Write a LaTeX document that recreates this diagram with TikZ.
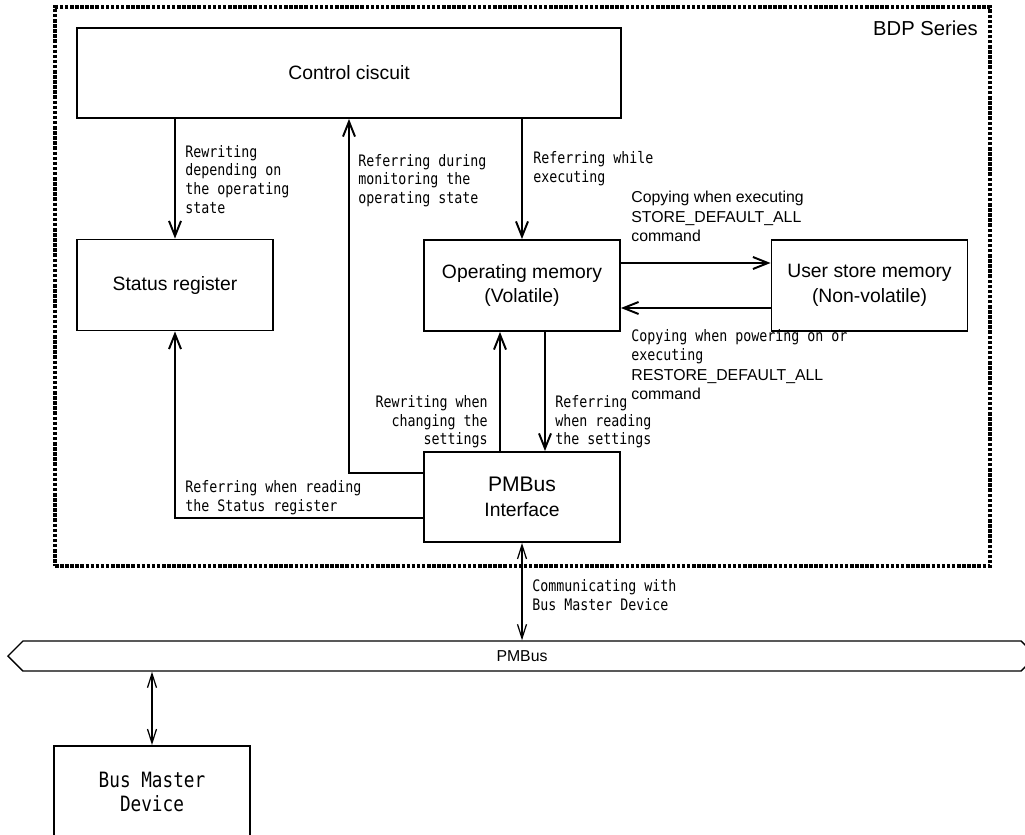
\documentclass[tikz,border=0pt]{standalone}
\usepackage{fontspec}
\setmainfont{Liberation Sans}
\newfontfamily\gothfont[FakeStretch=0.84]{DejaVu Sans Mono}
\usetikzlibrary{positioning}
\usetikzlibrary{arrows.meta}
\usetikzlibrary{shapes.symbols}

\begin{document}
\begin{tikzpicture}[x=0.2mm, y=-0.2mm,
  blk/.style={shape=rectangle, draw, line width=1.1pt, minimum width=39.2mm, minimum height=18.2mm, inner sep=0pt, align=center, font=\fontsize{11}{14}\selectfont},
  lbl/.style={inner sep=0pt, align=left, font=\gothfont\fontsize{9}{10.6}\selectfont},
  cmd/.style={inner sep=0pt, align=left, font=\fontsize{9}{11}\selectfont},
  arr/.style={-{Straight Barb[length=3mm,width=2.4mm]}, line width=1.1pt},
  busarr/.style={{Straight Barb[length=2.8mm,width=1.8mm]}-{Straight Barb[length=2.8mm,width=1.8mm]}, line width=0.7pt}]

  \useasboundingbox (0,0) rectangle (1025,834);

  % BDP frame
  \node[shape=rectangle, draw, line width=1.8pt, dash pattern=on 2pt off 0.9pt, minimum width=187mm, minimum height=111.8mm, inner sep=0pt] (frame) at (522.5,286.5) {};
  \node[anchor=north east, inner sep=0pt, font=\fontsize{11.5}{13}\selectfont] (series) at (978,21) {BDP Series};

  % blocks
  \node[blk, minimum width=108.8mm, minimum height=18mm] (ctrl) at (349,73) {Control ciscuit};
  \node[blk] (status) at (175,285) {Status register};
  \node[blk] (opmem) at (522,285.5) {Operating memory\\(Volatile)};
  \node[blk] (usermem) at (869.5,285.5) {User store memory\\(Non-volatile)};
  \node[blk, minimum height=18mm] (pmbusif) at (522,497) {{\fontsize{12}{14}\selectfont PMBus}\\Interface};
  \node[blk, minimum height=18.4mm, font=\gothfont\fontsize{12}{14}\selectfont] (master) at (152,792) {Bus Master\\Device};
  \node[shape=signal, signal to=west and east, draw, line width=0.8pt, minimum width=205.6mm, minimum height=6mm, inner sep=0pt, font=\fontsize{9}{11}\selectfont] (bus) at (522,656) {PMBus};

  % labels
  \node[lbl, anchor=north west] (rwstate) at (185,145) {Rewriting\\depending on\\the operating\\state};
  \node[lbl, anchor=north west] (refmon) at (358,154) {Referring during\\monitoring the\\operating state};
  \node[lbl, anchor=north west] (refexec) at (533,151) {Referring while\\executing};
  \node[cmd, anchor=north west] (storecmd) at (631,191) {Copying when executing\\STORE\_DEFAULT\_ALL\\command};
  \node[cmd, anchor=north west] (restorecmd) at (631,329) {{\gothfont Copying when powering on or}\\{\gothfont executing}\\RESTORE\_DEFAULT\_ALL\\command};
  \node[lbl, anchor=north east, align=right] (rwset) at (488,395) {Rewriting when\\changing the\\settings};
  \node[lbl, anchor=north west] (refset) at (555,395) {Referring\\when reading\\the settings};
  \node[lbl, anchor=north west] (refstat) at (185,480) {Referring when reading\\the Status register};
  \node[lbl, anchor=north west] (commbus) at (532,579) {Communicating with\\Bus Master Device};

  % connectors
  \draw[arr] (status.north |- ctrl.south) -- (status.north);
  \draw[arr] (opmem.north |- ctrl.south) -- (opmem.north);
  \draw[arr] ([yshift=-4.4mm]pmbusif.north west) -| (ctrl.south);
  \draw[arr] ([yshift=-13.4mm]pmbusif.north west) -| (status.south);
  \draw[arr] ([xshift=-4.4mm]pmbusif.north) -- ([xshift=-4.4mm]opmem.south);
  \draw[arr] ([xshift=4.6mm]opmem.south) -- ([xshift=4.6mm]pmbusif.north);
  \draw[arr] ([yshift=4.5mm]opmem.east) -- ([yshift=4.5mm]usermem.west);
  \draw[arr] ([yshift=-4.5mm]usermem.west) -- ([yshift=-4.5mm]opmem.east);
  \draw[busarr] (pmbusif.south) -- (pmbusif.south |- bus.north);
  \draw[busarr] (master.north) -- (master.north |- bus.south);
\end{tikzpicture}
\end{document}
